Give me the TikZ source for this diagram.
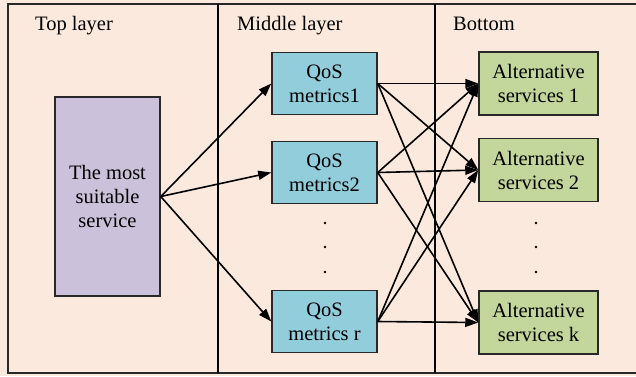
\documentclass[tikz,border=0pt]{standalone}
\usepackage{fontspec}
\setmainfont{Liberation Serif}
\usetikzlibrary{arrows.meta}
\definecolor{bgpeach}{RGB}{252,233,221}
\definecolor{purplebox}{RGB}{204,193,218}
\definecolor{bluebox}{RGB}{146,205,220}
\definecolor{greenbox}{RGB}{195,214,155}
\definecolor{edgegray}{RGB}{40,40,40}
\tikzset{
  txt/.style={font=\fontsize{20.5}{24}\selectfont, align=center},
  boxbase/.style={txt, draw=edgegray, line width=1.5pt, inner sep=0pt},
  topbox/.style={boxbase, fill=purplebox, minimum width=105pt, minimum height=199pt},
  qosbox/.style={boxbase, fill=bluebox, minimum width=105pt, minimum height=62pt},
  altbox/.style={boxbase, fill=greenbox, minimum width=119pt, minimum height=63pt},
  layerlabel/.style={font=\fontsize{20.5}{24}\selectfont, anchor=base west, inner sep=0pt},
  link/.style={line width=1.6pt, -{Triangle[length=13pt,width=9pt]}},
  dotmark/.style={fill=black}
}
\begin{document}
\begin{tikzpicture}[x=1pt,y=-1pt]
\useasboundingbox (0,0) rectangle (636,376);
% background and layer frame
\fill[bgpeach] (0,0) rectangle (636,376);
\draw[edgegray, line width=2pt] (8,4) rectangle (642,373);
\draw[line width=1.5pt] (218,4) -- (218,373);
\draw[line width=1.5pt] (435,4) -- (435,373);
% layer titles
\node[layerlabel] (ltop) at (35,30.5) {Top layer};
\node[layerlabel] (lmid) at (237,30.5) {Middle layer};
\node[layerlabel] (lbot) at (453,30.5) {Bottom};
% top layer
\node[topbox] (p) at (107.5,196.5) {The most\\suitable\\service};
% middle layer
\node[qosbox] (q1) at (324.5,83.5) {QoS\\metrics1};
\node[qosbox] (q2) at (324.5,172.5) {QoS\\metrics2};
\node[qosbox] (qr) at (324.5,321.5) {QoS\\metrics r};
% bottom layer
\node[altbox] (a1) at (538.5,83.5) {Alternative\\services 1};
\node[altbox] (a2) at (538.5,170) {Alternative\\services 2};
\node[altbox] (ak) at (538.5,322.5) {Alternative\\services k};
% vertical ellipses
\foreach \yy in {223,247,272} {
  \fill[dotmark] (325,\yy) circle (1.3pt);
  \fill[dotmark] (536,\yy) circle (1.3pt);
}
% connectors
\foreach \q in {q1,q2,qr} {
  \draw[link] (p.east) -- (\q.west);
}
\foreach \q in {q1,q2,qr} {
  \foreach \a in {a1,a2,ak} {
    \draw[link] (\q.east) -- (\a.west);
  }
}
\end{tikzpicture}
\end{document}
